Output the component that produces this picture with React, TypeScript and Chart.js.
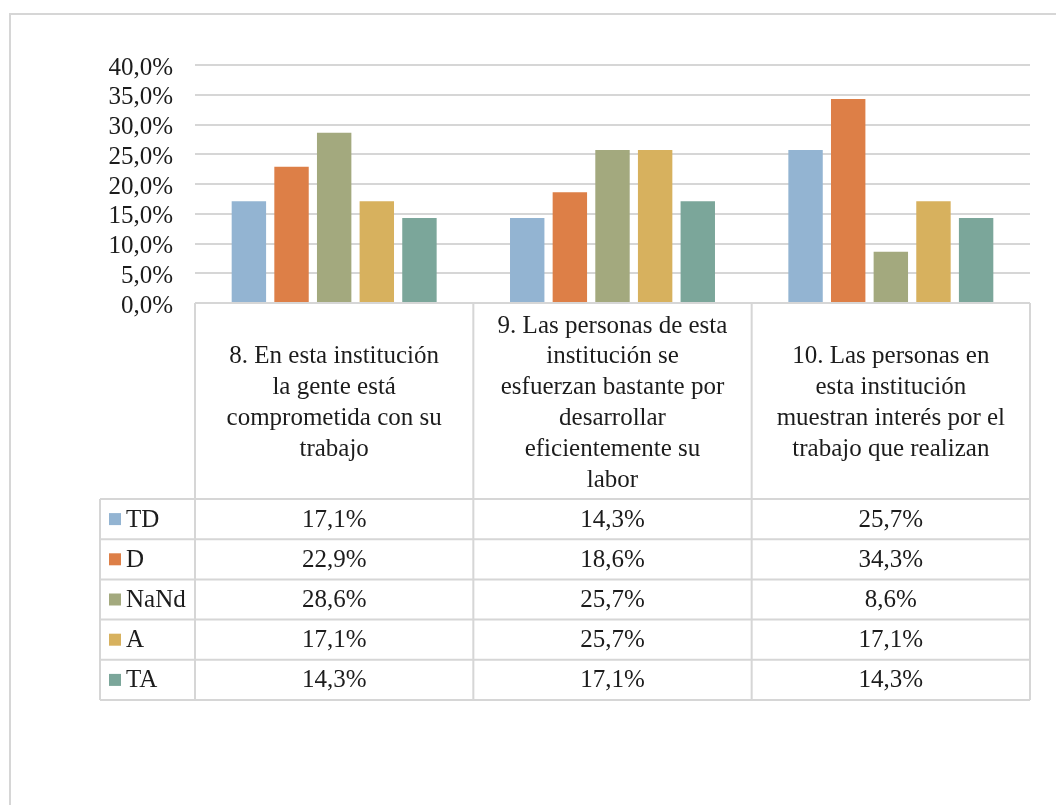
import React, { useEffect, useRef } from "react";
import { Chart, registerables } from "chart.js";

Chart.register(...registerables);

// Question texts (one entry per category, pre-split into lines)
const questions: string[][] = [
  ["8. En esta institución", "la gente está", "comprometida con su", "trabajo"],
  [
    "9. Las personas de esta",
    "institución se",
    "esfuerzan bastante por",
    "desarrollar",
    "eficientemente su",
    "labor",
  ],
  ["10. Las personas en", "esta institución", "muestran interés por el", "trabajo que realizan"],
];

const seriesNames = ["TD", "D", "NaNd", "A", "TA"];
const seriesColors = ["#93B4D2", "#DD7F47", "#A3A97E", "#D7B15E", "#7BA69A"];

// Percentages per answer option, one value per question
const tdValues = [17.1, 14.3, 25.7];
const dValues = [22.9, 18.6, 34.3];
const naNdValues = [28.6, 25.7, 8.6];
const aValues = [17.1, 25.7, 17.1];
const taValues = [14.3, 17.1, 14.3];

const yTicks = [0, 5, 10, 15, 20, 25, 30, 35, 40];

const seriesValues = [tdValues, dValues, naNdValues, aValues, taValues];

const FONT = '25px "Liberation Serif", "Times New Roman", serif';
const TEXT = "#1c1c1c";
const LINE = "#d6d6d6";

const fmt = (v: number) => v.toFixed(1).replace(".", ",") + "%";

// Draws the frame and the data table under the plot area
const dataTablePlugin = {
  id: "dataTable",
  afterDraw(chart: any) {
    const ctx: CanvasRenderingContext2D = chart.ctx;
    const area = chart.chartArea;
    const x = chart.scales.x;
    const catW = (area.right - area.left) / questions.length;
    const headerTop = area.bottom;
    const headerH = 196;
    const rowH = 40.2;
    const tableLeft = 100;
    const rowsTop = headerTop + headerH;
    const tableBottom = rowsTop + rowH * seriesNames.length;

    ctx.save();
    // outer frame
    ctx.strokeStyle = LINE;
    ctx.lineWidth = 2;
    ctx.strokeRect(10, 14, 1200, 1000);

    // table grid
    ctx.beginPath();
    ctx.moveTo(area.left, headerTop);
    ctx.lineTo(area.right, headerTop);
    for (let i = 0; i <= questions.length; i++) {
      const cx = area.left + i * catW;
      ctx.moveTo(cx, headerTop);
      ctx.lineTo(cx, tableBottom);
    }
    for (let r = 0; r <= seriesNames.length; r++) {
      const ry = rowsTop + r * rowH;
      ctx.moveTo(tableLeft, ry);
      ctx.lineTo(area.right, ry);
    }
    ctx.moveTo(tableLeft, rowsTop);
    ctx.lineTo(tableLeft, tableBottom);
    ctx.stroke();

    ctx.font = FONT;
    ctx.fillStyle = TEXT;
    ctx.textAlign = "center";
    ctx.textBaseline = "middle";

    // header: question texts
    const lineH = 30.8;
    questions.forEach((lines, i) => {
      const cx = x.getPixelForValue(i);
      const midY = headerTop + headerH / 2 + 2;
      const startY = midY - ((lines.length - 1) * lineH) / 2;
      lines.forEach((ln, k) => ctx.fillText(ln, cx, startY + k * lineH));
    });

    // rows: legend key + values
    seriesNames.forEach((name, r) => {
      const cy = rowsTop + r * rowH + rowH / 2;
      ctx.fillStyle = seriesColors[r];
      ctx.fillRect(109, cy - 6, 12, 12);
      ctx.fillStyle = TEXT;
      ctx.textAlign = "left";
      ctx.fillText(name, 126, cy + 1);
      ctx.textAlign = "center";
      seriesValues[r].forEach((v, i) => {
        ctx.fillText(fmt(v), x.getPixelForValue(i), cy + 1);
      });
    });
    ctx.restore();
  },
};

export default function App() {
  const canvasRef = useRef<HTMLCanvasElement | null>(null);

  useEffect(() => {
    const canvas = canvasRef.current;
    if (!canvas) return;
    const chart = new Chart(canvas, {
      type: "bar",
      data: {
        labels: questions.map((q) => q.join(" ")),
        datasets: seriesNames.map((name, i) => ({
          label: name,
          data: seriesValues[i],
          backgroundColor: seriesColors[i],
          borderWidth: 0,
          barPercentage: 0.807,
          categoryPercentage: 0.766,
        })),
      },
      options: {
        animation: false,
        responsive: false,
        devicePixelRatio: 1,
        layout: { padding: { top: 65, right: 26, bottom: 502, left: 0 } },
        plugins: {
          legend: { display: false },
          tooltip: { enabled: false },
        },
        scales: {
          x: { display: false },
          y: {
            min: 0,
            max: 40,
            afterFit: (scale: any) => {
              scale.width = 195;
            },
            afterBuildTicks: (scale: any) => {
              scale.ticks = yTicks.map((v) => ({ value: v }));
            },
            border: { display: false },
            grid: { color: LINE, lineWidth: 2, drawTicks: false },
            ticks: {
              autoSkip: false,
              stepSize: 5,
              padding: 22,
              labelOffset: 3,
              color: TEXT,
              font: { family: '"Liberation Serif", "Times New Roman", serif', size: 25 },
              callback: (v: any) => fmt(Number(v)),
            },
          },
        },
      },
      plugins: [dataTablePlugin],
    });
    return () => chart.destroy();
  }, []);

  return (
    <div style={{ position: "fixed", left: 0, top: 0, width: 1056, height: 805, background: "#fff" }}>
      <canvas ref={canvasRef} width={1056} height={805} />
    </div>
  );
}
